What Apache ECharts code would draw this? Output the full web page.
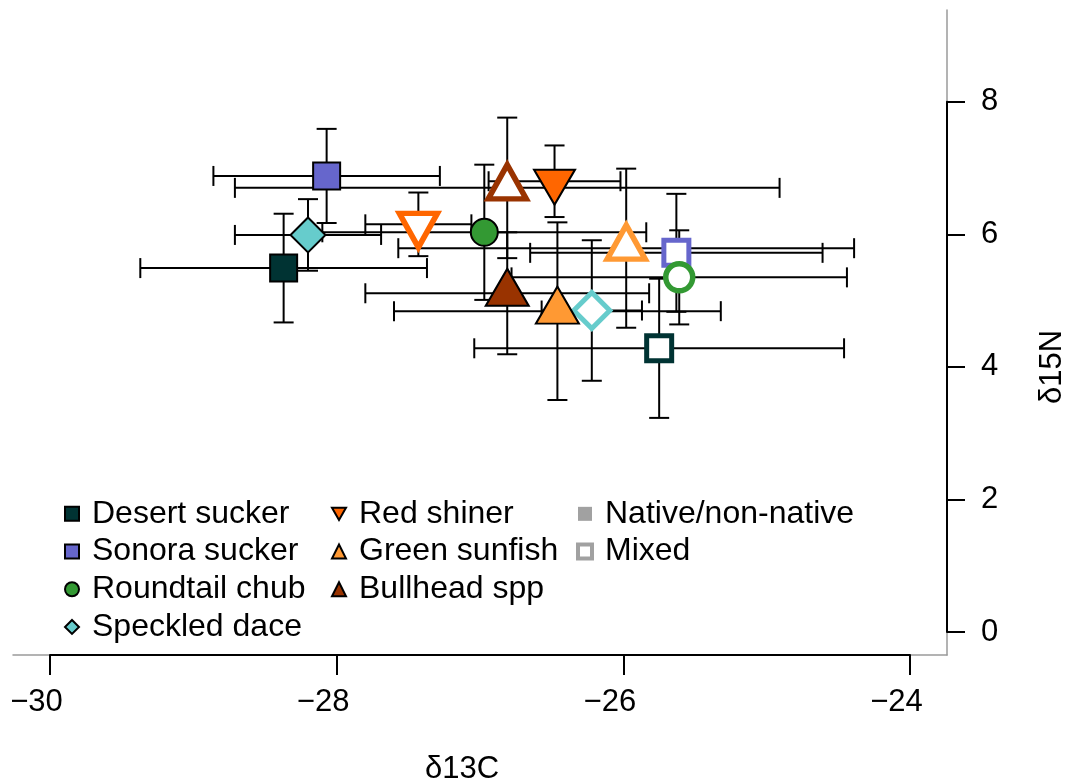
<!DOCTYPE html>
<html>
<head>
<meta charset="utf-8">
<script src="https://cdn.jsdelivr.net/npm/echarts@6/dist/echarts.min.js"></script>
<style>
html,body{margin:0;padding:0;background:#fff;}
#chart{width:1070px;height:782px;}
</style>
</head>
<body>
<div id="chart"></div>
<script>
// ---- data ----
const species = ['Desert sucker', 'Sonora sucker', 'Roundtail chub', 'Speckled dace', 'Red shiner', 'Green sunfish', 'Bullhead spp'];
const groups = ['Native/non-native', 'Mixed'];

// Native/non-native (filled symbols): mean d13C, mean d15N, error in d13C, error in d15N
const nativeX    = [-28.37, -28.07, -26.97, -28.20, -26.48, -26.46, -26.81];
const nativeY    = [5.49, 6.88, 6.03, 5.99, 6.80, 4.84, 5.11];
const nativeXErr = [1.00, 0.79, 1.13, 0.51, 0.46, 1.14, 0.99];
const nativeYErr = [0.82, 0.71, 1.02, 0.54, 0.54, 1.34, 0.92];

// Mixed (open symbols)
const mixedX    = [-25.75, -25.63, -25.61, -26.22, -27.43, -25.98, -26.81];
const mixedY    = [4.28, 5.72, 5.35, 4.85, 6.15, 5.79, 6.70];
const mixedXErr = [1.29, 1.02, 1.17, 0.35, 0.37, 1.59, 1.90];
const mixedYErr = [1.05, 0.89, 0.71, 1.06, 0.48, 1.20, 1.06];

const xTicks = [-30, -28, -26, -24];
const yTicks = [0, 2, 4, 6, 8];
const xTitle = 'δ13C';
const yTitle = 'δ15N';

// ---- styles ----
const FONT = '"Liberation Sans", Arial, sans-serif';
const colors = ['#003333', '#6666CC', '#339933', '#66CCCC', '#FF6600', '#FF9933', '#993300'];
const DOWN = 'path://M0,0L2,0L1,1.732Z';
const shapes = ['rect', 'rect', 'circle', 'diamond', DOWN, 'triangle', 'triangle'];
const shapeStyle = {
  'rect':     {fill: 27, open: 25, openW: 5, off: 0},
  'circle':   {fill: 27, open: 27, openW: 5.5, off: 0},
  'diamond':  {fill: 35, open: 36, openW: 5, off: 0},
  'triangle': {fill: [43, 37], open: [38, 34], openW: 5.5, off: -6},
};
shapeStyle[DOWN] = {fill: [41, 35], open: [38, 34], openW: 5.5, off: 6};

// error bar rows
const errRows = [];
species.forEach((s, i) => {
  errRows.push([nativeX[i], nativeY[i], nativeXErr[i], nativeYErr[i]]);
  errRows.push([mixedX[i], mixedY[i], mixedXErr[i], mixedYErr[i]]);
});

function renderErr(params, api) {
  const x = api.value(0), y = api.value(1), xe = api.value(2), ye = api.value(3);
  const l = api.coord([x - xe, y]), r = api.coord([x + xe, y]);
  const t = api.coord([x, y + ye]), b = api.coord([x, y - ye]);
  const cap = 10;
  const st = {stroke: '#000', lineWidth: 2};
  const ln = (x1, y1, x2, y2) => ({type: 'line', shape: {x1, y1, x2, y2}, style: st});
  return {
    type: 'group',
    children: [
      ln(l[0], l[1], r[0], r[1]),
      ln(l[0], l[1] - cap, l[0], l[1] + cap),
      ln(r[0], r[1] - cap, r[0], r[1] + cap),
      ln(t[0], t[1], b[0], b[1]),
      ln(t[0] - cap, t[1], t[0] + cap, t[1]),
      ln(b[0] - cap, b[1], b[0] + cap, b[1])
    ]
  };
}

const series = [{
  type: 'custom',
  xAxisIndex: 0, yAxisIndex: 0,
  data: errRows,
  encode: {x: 0, y: 1},
  renderItem: renderErr,
  z: 1,
  silent: true
}];

species.forEach((name, i) => {
  const sh = shapes[i];
  const ss = shapeStyle[sh];
  series.push({
    type: 'scatter',
    name: name,
    xAxisIndex: 0, yAxisIndex: 0,
    symbol: sh,
    symbolSize: ss.fill,
    symbolOffset: [0, ss.off],
    itemStyle: {color: colors[i], borderColor: '#000', borderWidth: 2, opacity: 1},
    emphasis: {disabled: true},
    z: 3,
    data: [
      {value: [nativeX[i], nativeY[i]]},
      {value: [mixedX[i], mixedY[i]], symbolSize: ss.open,
       itemStyle: {color: '#ffffff', borderColor: colors[i], borderWidth: ss.openW}}
    ]
  });
});

series.push({
  type: 'scatter', name: groups[0], xAxisIndex: 0, yAxisIndex: 0, symbol: 'rect', data: [],
  itemStyle: {color: '#8a8a8a', borderColor: '#8a8a8a', borderWidth: 0}
});
series.push({
  type: 'scatter', name: groups[1], xAxisIndex: 0, yAxisIndex: 0, symbol: 'rect', data: [],
  itemStyle: {color: '#ffffff', borderColor: '#8a8a8a', borderWidth: 4}
});

const minus = v => String(v).replace('-', '\u2212');

const legendBase = {
  orient: 'vertical', top: 495, itemWidth: 14, itemHeight: 14, itemGap: 0,
  padding: 0,
  selectedMode: false,
  textStyle: {fontSize: 32, fontFamily: FONT, color: '#000', lineHeight: 37.7, padding: [0, 0, 0, 8]}
};

const option = {
  animation: false,
  backgroundColor: '#fff',
  grid: [
    {left: 50, right: 160, top: 101.7, bottom: 150, outerBoundsMode: 'none'},
    {left: 13, right: 123, top: 10, bottom: 127, outerBoundsMode: 'none'}
  ],
  xAxis: [{
    gridIndex: 0, type: 'value',
    min: xTicks[0], max: xTicks[xTicks.length - 1], interval: xTicks[1] - xTicks[0],
    offset: 23,
    axisLine: {onZero: false, lineStyle: {color: '#000', width: 2}},
    axisTick: {length: 20, lineStyle: {color: '#000', width: 2}},
    axisLabel: {fontSize: 31, fontFamily: FONT, color: '#000', margin: 32, padding: [0, 27, 0, 0], formatter: minus},
    splitLine: {show: false},
    name: xTitle, nameLocation: 'middle', nameGap: 99,
    nameTextStyle: {fontSize: 31, fontFamily: FONT, color: '#000', padding: [0, 36, 0, 0]},
    z: 5
  }, {
    gridIndex: 1, type: 'value', min: 0, max: 1,
    axisLine: {onZero: false, lineStyle: {color: '#9a9a9a', width: 1.5}},
    axisTick: {show: false}, axisLabel: {show: false}, splitLine: {show: false}, z: 0
  }],
  yAxis: [{
    gridIndex: 0, type: 'value', position: 'right',
    min: yTicks[0], max: yTicks[yTicks.length - 1], interval: yTicks[1] - yTicks[0],
    offset: 37,
    axisLine: {onZero: false, lineStyle: {color: '#000', width: 2}},
    axisTick: {length: 18, lineStyle: {color: '#000', width: 2}},
    axisLabel: {fontSize: 31, fontFamily: FONT, color: '#000', margin: 34},
    splitLine: {show: false},
    name: yTitle, nameLocation: 'middle', nameGap: 90,
    nameTextStyle: {fontSize: 31, fontFamily: FONT, color: '#000'},
    z: 5
  }, {
    gridIndex: 1, type: 'value', position: 'right', min: 0, max: 1,
    axisLine: {onZero: false, lineStyle: {color: '#9a9a9a', width: 1.5}},
    axisTick: {show: false}, axisLabel: {show: false}, splitLine: {show: false}, z: 0
  }],
  legend: [
    Object.assign({}, legendBase, {left: 64, data: species.slice(0, 4)}),
    Object.assign({}, legendBase, {left: 331, data: species.slice(4)}),
    Object.assign({}, legendBase, {left: 576, data: [
      {name: groups[0], itemStyle: {color: '#8a8a8a', borderWidth: 0}},
      {name: groups[1], itemStyle: {color: '#ffffff', borderColor: '#8a8a8a', borderWidth: 4}}
    ]})
  ],
  series: series
};

const chart = echarts.init(document.getElementById('chart'), null, {renderer: 'canvas'});
chart.setOption(option);
</script>
</body>
</html>
